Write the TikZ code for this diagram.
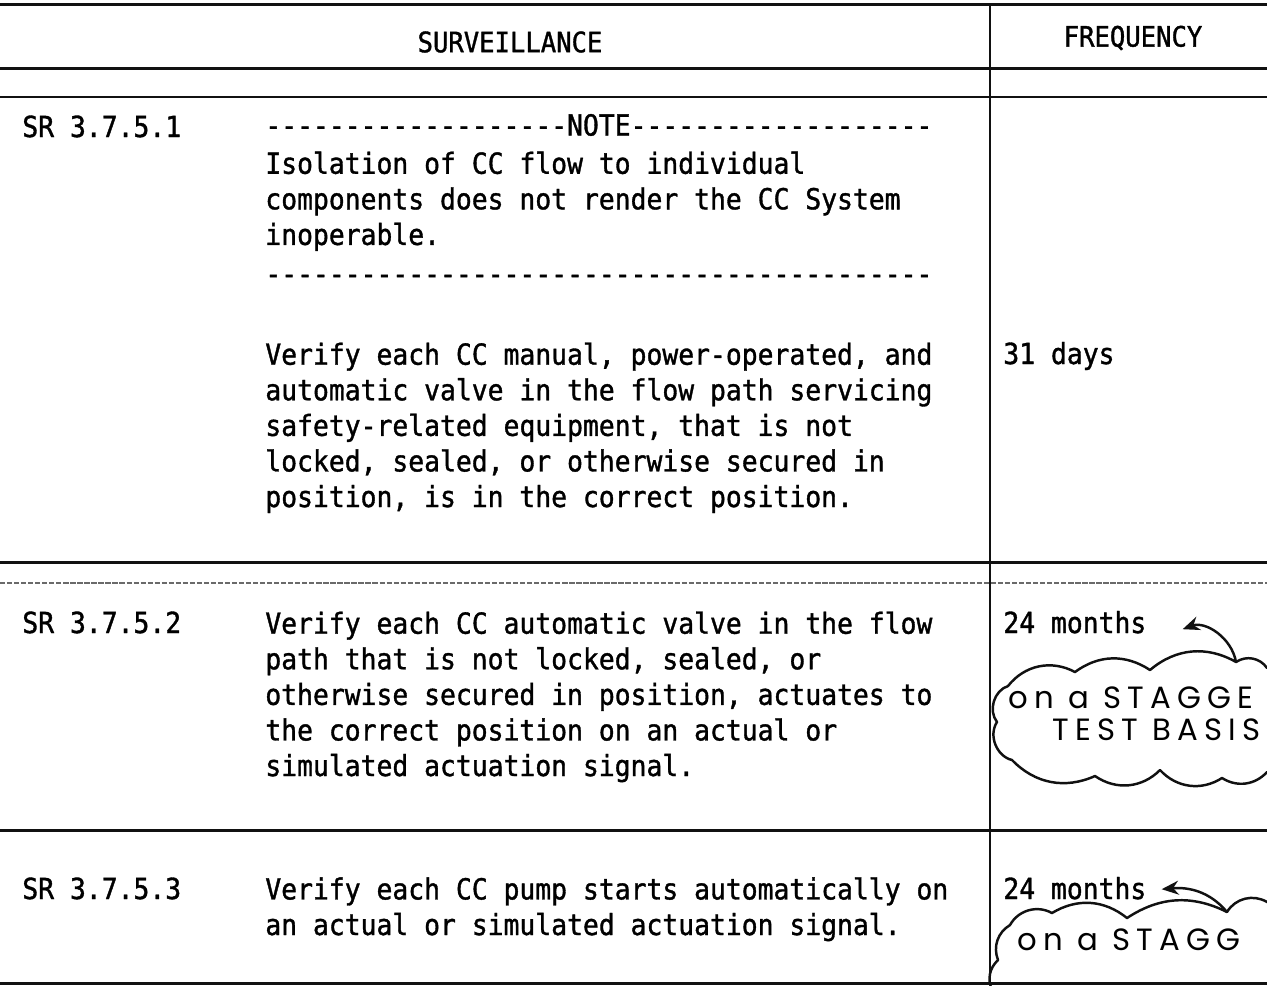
\documentclass[tikz,border=0pt]{standalone}
\usepackage{fontspec}
\usepackage{tikz}
\usetikzlibrary{arrows.meta,positioning}
\setmonofont[FakeStretch=0.91,FakeBold=1.2]{DejaVu Sans Mono}
\newfontfamily\handfont[LetterSpace=20]{Poppins}
\definecolor{scanInk}{HTML}{111111}
\definecolor{scanGrey}{HTML}{6A6A6A}
\tikzset{
  tableRule/.style={
    draw=scanInk,
    line width=1.7pt
  },
  thinRule/.style={
    draw=scanInk,
    line width=1.1pt
  },
  scanDots/.style={
    draw=scanGrey,
    line width=0.6pt,
    dash pattern=on 3pt off 1pt
  },
  colRule/.style={
    draw=scanInk,
    line width=1.3pt
  },
  headCell/.style={
    font=\ttfamily\fontsize{16}{19}\selectfont,
    inner sep=0pt
  },
  srCell/.style={
    font=\ttfamily\fontsize{16.5}{20.25}\selectfont,
    anchor=base west,
    align=left,
    inner sep=0pt
  },
  handNote/.style={
    font=\handfont\fontsize{17.5}{20}\selectfont,
    anchor=base west,
    inner sep=0pt
  },
  cloudLine/.style={
    draw=scanInk,
    line width=1.4pt,
    line cap=round,
    line join=round
  },
  handArrow/.style={
    -{Stealth[length=3.4mm,width=2.8mm]},
    draw=scanInk,
    line width=1.4pt
  }
}

\begin{document}
\begin{tikzpicture}[x=0.02cm,y=0.02cm]
  \useasboundingbox (0,0) rectangle (1267,-985);
  \clip (0,0) rectangle (1267,-985);
  % table rules
  \draw[tableRule] (0,-4) -- (1267,-4);
  \draw[tableRule] (0,-68) -- (1267,-68);
  \draw[thinRule] (0,-97) -- (1267,-97);
  \draw[tableRule] (0,-562) -- (1267,-562);
  \draw[scanDots] (0,-583) -- (1267,-583);
  \draw[tableRule] (0,-830) -- (1267,-830);
  \draw[tableRule] (0,-983) -- (1267,-983);
  \draw[colRule] (990,-4) -- (990,-985);
  % header
  \node[headCell] (survHead) at (510,-42) {SURVEILLANCE};
  \node[headCell] (freqHead) at (1133,-38) {FREQUENCY};
  % SR 3.7.5.1 (multi-line cells sit on their last baseline)
  \node[srCell] (srOne) at (22,-137) {SR 3.7.5.1};
  \node[srCell] (noteOne) at (265,-284) {-------------------NOTE-------------------\\[1.5pt]
    Isolation of CC flow to individual\\
    components does not render the CC System\\
    inoperable.\\[2pt]
    ------------------------------------------};
  \node[srCell] (verifyOne) at (265,-507) {Verify each CC manual, power-operated, and\\
    automatic valve in the flow path servicing\\
    safety-related equipment, that is not\\
    locked, sealed, or otherwise secured in\\
    position, is in the correct position.};
  \node[srCell] (freqOne) at (1003,-364) {31 days};
  % SR 3.7.5.2
  \node[srCell] (srTwo) at (22,-633) {SR 3.7.5.2};
  \node[srCell] (verifyTwo) at (265,-776) {Verify each CC automatic valve in the flow\\
    path that is not locked, sealed, or\\
    otherwise secured in position, actuates to\\
    the correct position on an actual or\\
    simulated actuation signal.};
  \node[srCell] (freqTwo) at (1003,-633) {24 months};
  % SR 3.7.5.3
  \node[srCell] (srThree) at (22,-899) {SR 3.7.5.3};
  \node[srCell] (verifyThree) at (265,-935) {Verify each CC pump starts automatically on\\
    an actual or simulated actuation signal.};
  \node[srCell] (freqThree) at (1003,-899) {24 months};
  % handwritten clouds
  \coordinate (tailTwo) at (1236,-662);
  \draw[cloudLine] (1267,-668) to[bend right=45] (tailTwo) to[bend right=35] (1150,-670)
    to[bend right=35] (1075,-672) to[bend right=40] (1008,-686) to[bend right=55] (997,-722)
    to[bend right=55] (1012,-760) to[bend right=35] (1095,-776) to[bend right=40] (1160,-770)
    to[bend right=40] (1222,-778) to[bend right=40] (1267,-772);
  \node[handNote] (stagTwo) at (1008,-708) {on a STAGGE};
  \node[handNote] (testTwo) at (1052,-740) {TEST BASIS};
  \draw[handArrow] (tailTwo) to[out=100,in=20] ([xshift=0.72cm,yshift=-0.14cm]freqTwo.east);
  \coordinate (tailThree) at (1227,-912);
  \draw[cloudLine] (1267,-902) to[bend right=45] (tailThree) to[bend right=30] (1127,-918)
    to[bend right=35] (1052,-913) to[bend right=45] (1010,-925) to[bend right=40] (998,-960)
    to[bend right=35] (992,-990);
  \node[handNote] (stagThree) at (1017,-950) {on a STAGG};
  \draw[handArrow] (tailThree) to[out=130,in=5] ([xshift=0.3cm,yshift=-0.02cm]freqThree.east);
\end{tikzpicture}
\end{document}
